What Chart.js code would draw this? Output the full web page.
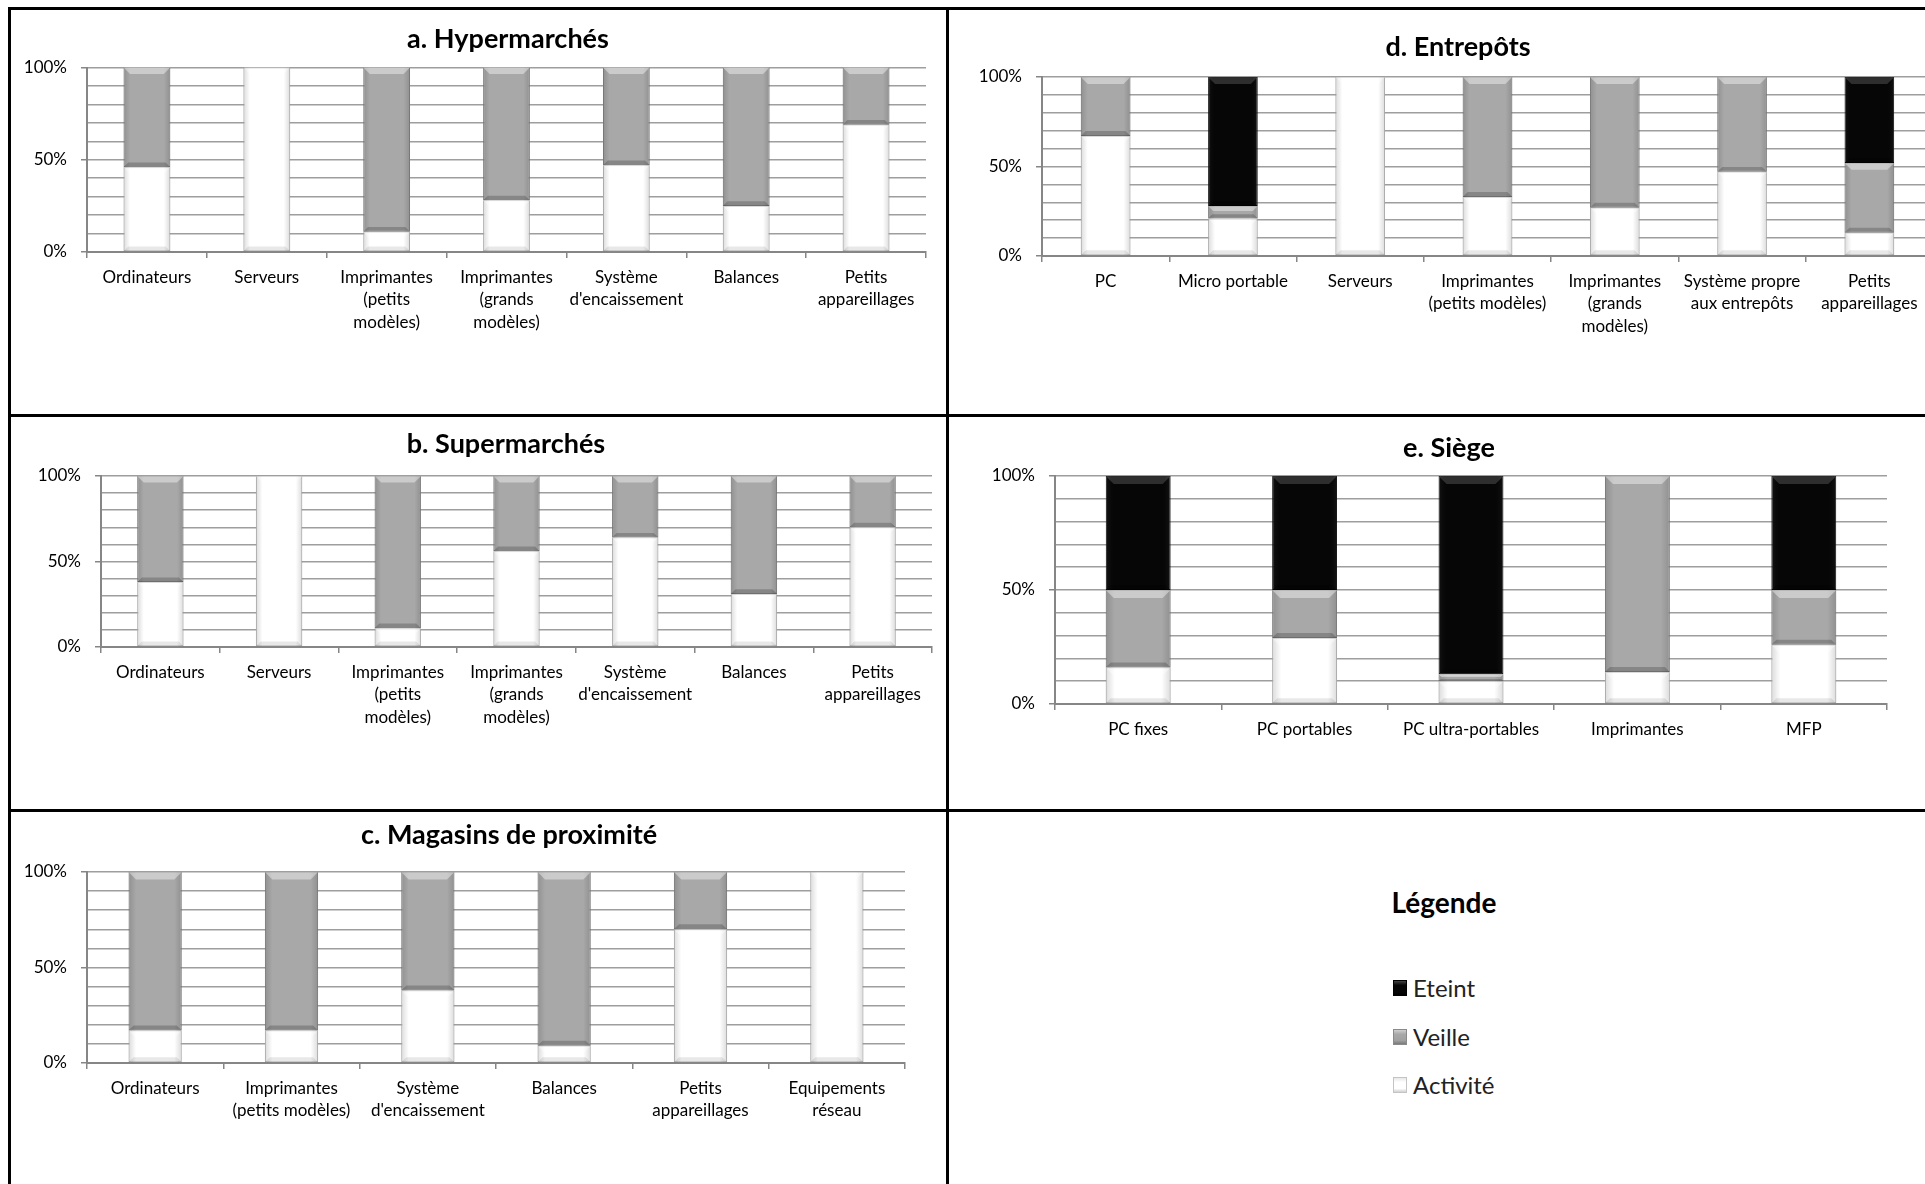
<!DOCTYPE html>
<html><head><meta charset="utf-8">
<script src="https://cdn.jsdelivr.net/npm/chart.js@4.4.1/dist/chart.umd.min.js"></script>
<style>
html,body{margin:0;padding:0;background:#fff;overflow:hidden;width:1925px;height:1184px;}
#stage{position:relative;width:1925px;height:1184px;overflow:hidden;background:#fff;}
canvas{position:absolute;}
.ln{position:absolute;background:#000;z-index:5;}
.legTitle{position:absolute;font-family:Lato,sans-serif;font-weight:bold;color:#000;text-align:center;}
.legItem{position:absolute;font-family:Lato,sans-serif;color:#222;white-space:nowrap;}
.legSw{position:absolute;box-sizing:border-box;}
</style></head><body>
<div id="stage">
  <canvas id="cA"></canvas>
  <canvas id="cB"></canvas>
  <canvas id="cC"></canvas>
  <canvas id="cD"></canvas>
  <canvas id="cE"></canvas>
  <div class="ln" style="left:8px;top:7px;width:1917px;height:3px"></div>
  <div class="ln" style="left:8px;top:7px;width:3px;height:1177px"></div>
  <div class="ln" style="left:946px;top:7px;width:3px;height:1177px"></div>
  <div class="ln" style="left:8px;top:414px;width:1917px;height:3px"></div>
  <div class="ln" style="left:8px;top:809px;width:1917px;height:3px"></div>
  <div id="legend"></div>
</div>
<script>
// ---- series ----
const seriesNames  = ['Activité', 'Veille', 'Eteint'];
const seriesColors = ['#ffffff', '#a8a8a8', '#060606'];
const seriesBorders = ['#c4c4c4', '#8a8a8a', '#000000'];
const yLabeledTicks = [0, 50, 100];
const legendTitle = 'Légende';

// ---- a. Hypermarchés ----
const hyperTitle = 'a. Hypermarchés';
const hyperCategories = ['Ordinateurs', 'Serveurs', ['Imprimantes', '(petits', 'modèles)'], ['Imprimantes', '(grands', 'modèles)'], ['Système', "d'encaissement"], 'Balances', ['Petits', 'appareillages']];
const hyperActivite = [46, 100, 11, 28, 47, 25, 69];
const hyperVeille   = [54, 0, 89, 72, 53, 75, 31];
const hyperEteint   = [0, 0, 0, 0, 0, 0, 0];

// ---- b. Supermarchés ----
const superTitle = 'b. Supermarchés';
const superCategories = ['Ordinateurs', 'Serveurs', ['Imprimantes', '(petits', 'modèles)'], ['Imprimantes', '(grands', 'modèles)'], ['Système', "d'encaissement"], 'Balances', ['Petits', 'appareillages']];
const superActivite = [38, 100, 11, 56, 64, 31, 70];
const superVeille   = [62, 0, 89, 44, 36, 69, 30];
const superEteint   = [0, 0, 0, 0, 0, 0, 0];

// ---- c. Magasins de proximité ----
const proxTitle = 'c. Magasins de proximité';
const proxCategories = ['Ordinateurs', ['Imprimantes', '(petits modèles)'], ['Système', "d'encaissement"], 'Balances', ['Petits', 'appareillages'], ['Equipements', 'réseau']];
const proxActivite = [17, 17, 38, 9, 70, 100];
const proxVeille   = [83, 83, 62, 91, 30, 0];
const proxEteint   = [0, 0, 0, 0, 0, 0];

// ---- d. Entrepôts ----
const entTitle = 'd. Entrepôts';
const entCategories = ['PC', 'Micro portable', 'Serveurs', ['Imprimantes', '(petits modèles)'], ['Imprimantes', '(grands', 'modèles)'], ['Système propre', 'aux entrepôts'], ['Petits', 'appareillages']];
const entActivite = [67, 21, 100, 33, 27, 47, 13];
const entVeille   = [33, 7, 0, 67, 73, 53, 39];
const entEteint   = [0, 72, 0, 0, 0, 0, 48];

// ---- e. Siège ----
const siegeTitle = 'e. Siège';
const siegeCategories = ['PC fixes', 'PC portables', 'PC ultra-portables', 'Imprimantes', 'MFP'];
const siegeActivite = [16, 29, 10, 14, 26];
const siegeVeille   = [34, 21, 3, 86, 24];
const siegeEteint   = [50, 50, 87, 0, 50];

// ---- layout (pixels) ----
const FONT = 'Lato, "Open Sans", sans-serif';
const TITLE_SIZE = 27, TITLE_LH = 1.2, TICK_SIZE = 17;
const panels = [
  {id:'cA', title:hyperTitle, cats:hyperCategories, data:[hyperActivite, hyperVeille, hyperEteint],
   box:{cl:12, ct:12, h:400, axisX:87, right:926, titleX:508, titleY:39, top:67.5, bottom:252}},
  {id:'cB', title:superTitle, cats:superCategories, data:[superActivite, superVeille, superEteint],
   box:{cl:12, ct:418, h:390, axisX:101, right:932, titleX:506, titleY:444, top:476, bottom:647}},
  {id:'cC', title:proxTitle, cats:proxCategories, data:[proxActivite, proxVeille, proxEteint],
   box:{cl:12, ct:813, h:371, axisX:87, right:905, titleX:509, titleY:835, top:872, bottom:1063}},
  {id:'cD', title:entTitle, cats:entCategories, data:[entActivite, entVeille, entEteint],
   box:{cl:951, ct:12, h:400, axisX:1042, right:1933, titleX:1458, titleY:47, top:77, bottom:256}},
  {id:'cE', title:siegeTitle, cats:siegeCategories, data:[siegeActivite, siegeVeille, siegeEteint],
   box:{cl:951, ct:418, h:390, axisX:1055, right:1887, titleX:1449, titleY:448, top:476, bottom:704}}
];

// bevelled look of the Excel columns
const bevel = {
  id: 'bevel',
  afterDatasetsDraw(chart) {
    const ctx = chart.ctx;
    chart.data.datasets.forEach((ds, di) => {
      const meta = chart.getDatasetMeta(di);
      meta.data.forEach(el => {
        const p = el.getProps(['x', 'y', 'base', 'width'], true);
        const top = Math.min(p.y, p.base), bot = Math.max(p.y, p.base), h = bot - top;
        if (h < 1) return;
        const l = p.x - p.width / 2, r = p.x + p.width / 2, w = p.width;
        const d = Math.min(w * 0.14, h / 2.5, 8);
        const db = Math.min(w * 0.1, h / 3, 5);
        ctx.save();
        const g = ctx.createLinearGradient(l, 0, r, 0);
        const s = di === 2 ? 'rgba(255,255,255,0.06)' : 'rgba(0,0,0,0.14)';
        g.addColorStop(0, s); g.addColorStop(0.14, 'rgba(0,0,0,0)');
        g.addColorStop(0.86, 'rgba(0,0,0,0)'); g.addColorStop(1, s);
        ctx.fillStyle = g;
        ctx.fillRect(l, top, w, h);
        ctx.fillStyle = di === 2 ? 'rgba(255,255,255,0.16)' : 'rgba(255,255,255,0.4)';
        ctx.beginPath(); ctx.moveTo(l, top); ctx.lineTo(r, top); ctx.lineTo(r - d, top + d); ctx.lineTo(l + d, top + d); ctx.closePath(); ctx.fill();
        ctx.fillStyle = di === 0 ? 'rgba(0,0,0,0.09)' : 'rgba(0,0,0,0.2)';
        ctx.beginPath(); ctx.moveTo(l, bot); ctx.lineTo(r, bot); ctx.lineTo(r - db, bot - db); ctx.lineTo(l + db, bot - db); ctx.closePath(); ctx.fill();
        ctx.restore();
      });
    });
  }
};

function build(p) {
  const L = p.box;
  // title box [TL, TR] centred on titleX; y axis keeps room for its labels
  let TL = L.cl, TR = 2 * L.titleX - L.cl;
  if (TR < L.right) { TR = L.right; TL = 2 * L.titleX - L.right; }
  const Pl = TL - L.cl, Y = L.axisX - TL, Rb = TR - L.right;
  const W = Math.ceil(TR - L.cl);
  const tH = TITLE_SIZE * TITLE_LH;
  const Pt = L.titleY - L.ct - tH / 2;
  const Pb = L.top - L.ct - Pt - tH;
  const Hx = L.ct + L.h - L.bottom;
  const cv = document.getElementById(p.id);
  cv.width = W; cv.height = L.h;
  cv.style.left = L.cl + 'px'; cv.style.top = L.ct + 'px';
  cv.style.width = W + 'px'; cv.style.height = L.h + 'px';

  const scales = {
    x: {
      stacked: true, offset: true,
      grid: {display: true, offset: true, drawOnChartArea: false, drawTicks: true, tickLength: 6, color: '#868686', lineWidth: 1.5},
      border: {display: true, color: '#868686', width: 2},
      ticks: {font: {family: FONT, size: TICK_SIZE, lineHeight: 1.33}, color: '#000', padding: 8, maxRotation: 0, autoSkip: false},
      afterFit(s) { s.height = Hx; }
    },
    y: {
      stacked: true, min: 0, max: 100,
      ticks: {stepSize: 10, autoSkip: false, font: {family: FONT, size: TICK_SIZE}, color: '#000', padding: 14,
              callback: v => yLabeledTicks.includes(v) ? v + '%' : ''},
      grid: {color: '#9e9e9e', lineWidth: 1.5, tickLength: 6,
             tickColor: c => (c.tick && yLabeledTicks.includes(c.tick.value)) ? '#868686' : 'rgba(0,0,0,0)'},
      border: {display: true, color: '#868686', width: 2},
      afterFit(s) { s.width = Y; }
    }
  };
  if (Rb > 0) {
    scales.pad = {type: 'linear', position: 'right', display: true, grid: {display: false},
                  border: {display: false}, ticks: {display: false}, afterFit(s) { s.width = Rb; }};
  }

  new Chart(cv, {
    type: 'bar',
    data: {
      labels: p.cats,
      datasets: seriesNames.map((n, i) => ({
        label: n, data: p.data[i],
        backgroundColor: seriesColors[i], borderColor: seriesBorders[i],
        borderWidth: c => c.raw ? 1 : 0, borderSkipped: false,
        barPercentage: 0.39, categoryPercentage: 1
      }))
    },
    options: {
      responsive: false, animation: false, devicePixelRatio: 1,
      layout: {padding: {left: Pl, right: 0, top: 0, bottom: 0}},
      plugins: {
        legend: {display: false}, tooltip: {enabled: false},
        title: {display: true, text: p.title, fullSize: true, color: '#000',
                font: {family: FONT, size: TITLE_SIZE, weight: 'bold', lineHeight: TITLE_LH},
                padding: {top: Pt, bottom: Pb}}
      },
      scales
    },
    plugins: [bevel]
  });
}
panels.forEach(build);

// ---- legend panel ----
(function () {
  const lg = document.getElementById('legend');
  const t = document.createElement('div');
  t.className = 'legTitle'; t.textContent = legendTitle;
  Object.assign(t.style, {left: '1344px', width: '200px', top: '884px', fontSize: '28px', lineHeight: '36px'});
  lg.appendChild(t);
  const order = [2, 1, 0];
  const centers = [988, 1037, 1085];
  const swatch = [
    'linear-gradient(180deg,#e8e8e8 0%,#ffffff 30%,#ffffff 75%,#d0d0d0 100%)',
    'linear-gradient(180deg,#cfcfcf 0%,#a8a8a8 30%,#a0a0a0 75%,#7a7a7a 100%)',
    'linear-gradient(180deg,#444 0%,#060606 30%,#060606 80%,#000 100%)'
  ];
  order.forEach((si, k) => {
    const sw = document.createElement('div');
    sw.className = 'legSw';
    Object.assign(sw.style, {left: '1393px', top: (centers[k] - 8) + 'px', width: '14px', height: '16px',
      background: swatch[si], border: '1px solid ' + seriesBorders[si]});
    lg.appendChild(sw);
    const tx = document.createElement('div');
    tx.className = 'legItem'; tx.textContent = seriesNames[si];
    Object.assign(tx.style, {left: '1413px', top: (centers[k] - 16) + 'px', fontSize: '24px', lineHeight: '32px'});
    lg.appendChild(tx);
  });
})();
</script>
</body></html>
